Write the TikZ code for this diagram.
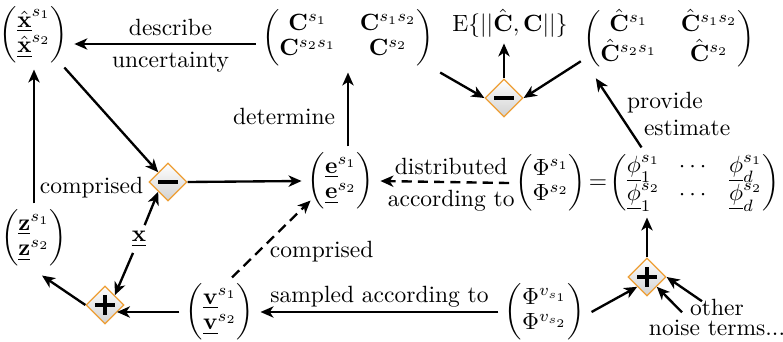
\documentclass[tikz,border=0pt]{standalone}
\usepackage{amsmath}
\usetikzlibrary{arrows.meta,shapes.geometric,calc}
\definecolor{oporange}{RGB}{238,158,52}
\renewcommand{\arraystretch}{0.9}
\tikzset{
  conn/.style={line width=1pt, -{Stealth[length=5.5pt,width=4.8pt,inset=1.6pt]}},
  dconn/.style={conn, dash pattern=on 4.3pt off 2.6pt},
  opnode/.style={diamond, draw=oporange, line width=0.5pt, minimum size=16.2pt, inner sep=0pt, top color=white, bottom color=black!18},
  sign/.style={line width=1.3pt},
  mat/.style={inner sep=2.5pt},
  lbl/.style={inner sep=2.8pt},
}
\begin{document}
\begin{tikzpicture}[x=0.4255pt,y=-0.4255pt]
\useasboundingbox (0,0) rectangle (783,342);
% nodes
\node[mat] (xh) at (34,35) {$\begin{pmatrix}\underline{\hat{\mathbf{x}}}^{s_1}\\ \underline{\hat{\mathbf{x}}}^{s_2}\end{pmatrix}$};
\node[mat] (C) at (348,38) {$\begin{pmatrix}\mathbf{C}^{s_1} & \mathbf{C}^{s_1s_2}\\ \mathbf{C}^{s_2s_1} & \mathbf{C}^{s_2}\end{pmatrix}$};
\node[mat] (E) at (510,23) {$\mathrm{E}\{||\hat{\mathbf{C}},\mathbf{C}||\}$};
\node[mat] (Ch) at (669,39) {$\begin{pmatrix}\hat{\mathbf{C}}^{s_1} & \hat{\mathbf{C}}^{s_1s_2}\\ \hat{\mathbf{C}}^{s_2s_1} & \hat{\mathbf{C}}^{s_2}\end{pmatrix}$};
\node[opnode] (m1) at (504,98) {};
\node[opnode] (m2) at (168,182) {};
\node[mat] (e) at (341,181) {$\begin{pmatrix}\underline{\mathbf{e}}^{s_1}\\ \underline{\mathbf{e}}^{s_2}\end{pmatrix}$};
\node[mat, anchor=east] (Phi) at (786,183) {$\begin{pmatrix}\Phi^{s_1}\\ \Phi^{s_2}\end{pmatrix}\!=\!\left(\vphantom{\begin{matrix}\Phi^{s_1}\\ \Phi^{s_2}\end{matrix}}\renewcommand{\arraystretch}{0.7}\setlength{\arraycolsep}{4pt}\begin{matrix}\underline{\phi}^{s_1}_1 & \cdots & \underline{\phi}^{s_1}_d\\ \underline{\phi}^{s_2}_1 & \cdots & \underline{\phi}^{s_2}_d\end{matrix}\right)$};
\node[mat] (z) at (34,238) {$\begin{pmatrix}\underline{\mathbf{z}}^{s_1}\\ \underline{\mathbf{z}}^{s_2}\end{pmatrix}$};
\node[mat] (xl) at (139,239) {$\underline{\mathbf{x}}$};
\node[opnode] (p1) at (105,305) {};
\node[mat] (v) at (220,312) {$\begin{pmatrix}\underline{\mathbf{v}}^{s_1}\\ \underline{\mathbf{v}}^{s_2}\end{pmatrix}$};
\node[mat] (Pv) at (545,312) {$\begin{pmatrix}\Phi^{v_{s_1}}\\ \Phi^{v_{s_2}}\end{pmatrix}$};
\node[opnode] (p2) at (647,277) {};
\node[inner sep=0pt, align=center] (noise) at (717,317) {other\\[-3.5pt]noise terms...};
% signs
\foreach \n in {m1,m2,p1,p2}
  \draw[sign] ([shift={(-10,0)}]\n.center) -- ([shift={(10,0)}]\n.center);
\foreach \n in {p1,p2}
  \draw[sign] ([shift={(0,-10)}]\n.center) -- ([shift={(0,10)}]\n.center);
% connectors
\draw[conn] (C.west |- 0,44) -- (xh.east |- 0,44)
  node[lbl, above, pos=0.47] {describe}
  node[lbl, below, pos=0.47] {uncertainty};
\draw[conn] (C.south |- e.north) -- (C.south)
  node[pos=0.4, left, inner sep=5pt] {determine};
\draw[conn] (C.south east) -- (m1.west);
\draw[conn] ([shift={(4,-14)}]Ch.south west) -- (m1.east);
\draw[conn] (m1.north) -- (m1.north |- E.south);
\draw[conn] ([shift={(-6,-1)}]Phi.north) -- ([shift={(19,3)}]Ch.south west)
  node[pos=0.65, anchor=west, xshift=6pt, inner sep=0pt] {provide}
  node[pos=0.28, anchor=west, xshift=6pt, inner sep=0pt] {estimate};
\draw[conn] ([shift={(-10,-2)}]xh.south east) -- (m2.north west);
\draw[conn] (z.north) -- (xh.south)
  node[pos=0.12, anchor=west, inner sep=2pt] {comprised};
\draw[conn] (m2.east) -- (e.west);
\draw[dconn] (Phi.west) -- (e.east)
  node[lbl, above, pos=0.45] {distributed}
  node[lbl, below, pos=0.45] {according to};
\draw[conn] (xl) -- (m2.south west);
\draw[conn] (xl) -- (p1.north east);
\draw[conn] (p1.west) -- ([shift={(8,3)}]z.south);
\draw[conn] (v.west) -- ([shift={(12,7)}]p1.center);
\draw[dconn] ([shift={(12,0)}]v.north) -- ([shift={(9,-15)}]e.south west)
  node[pos=0.34, anchor=west, xshift=4.3pt, inner sep=0pt] {comprised};
\draw[conn] (Pv.west) -- (v.east)
  node[above, midway, inner sep=1.5pt] {sampled according to};
\draw[conn] (Pv.east) -- (p2.south west);
\draw[conn] (p2.north) -- (p2.north |- Phi.south);
\draw[conn] ([shift={(-35,14)}]noise.north) -- (p2.south east);
\draw[conn] ([shift={(-15,3)}]noise.north) -- (p2.east);
\end{tikzpicture}
\end{document}
